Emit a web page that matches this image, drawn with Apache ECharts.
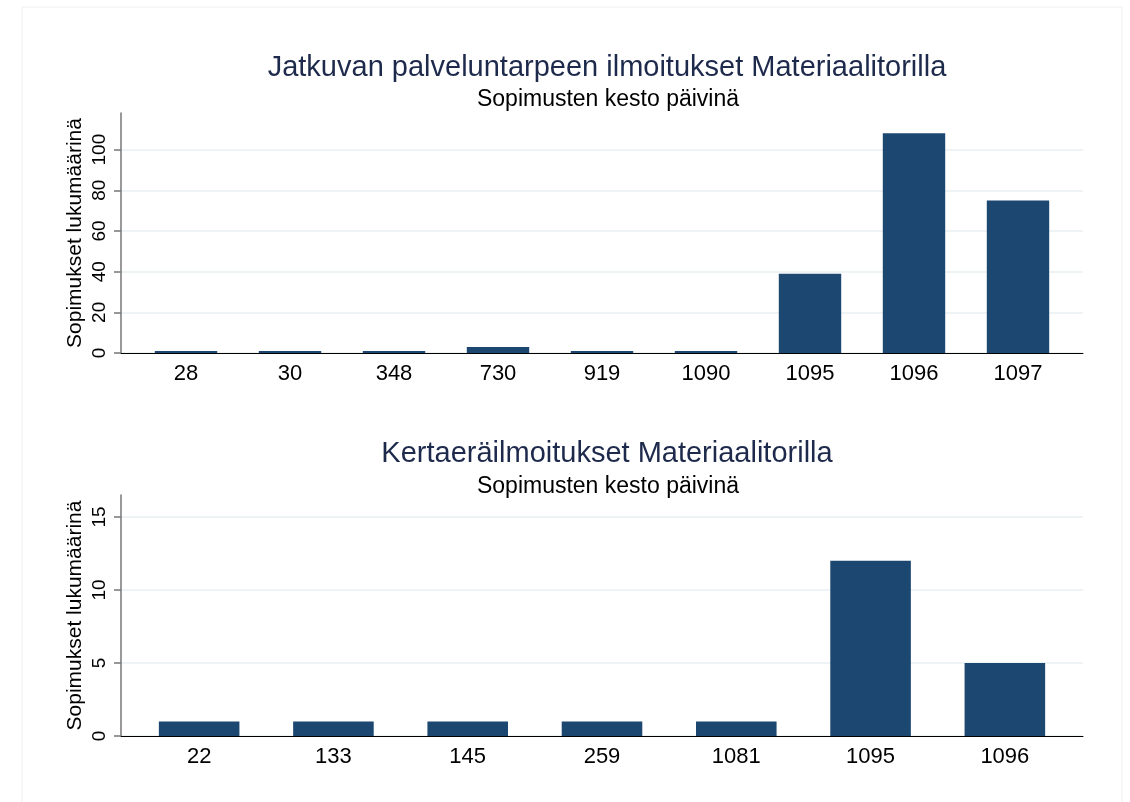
<!DOCTYPE html>
<html>
<head>
<meta charset="utf-8">
<script src="https://cdn.jsdelivr.net/npm/echarts@6/dist/echarts.min.js"></script>
<style>
  html, body { margin: 0; padding: 0; background: #fff; }
  #chart { width: 1130px; height: 802px; }
</style>
</head>
<body>
<div id="chart"></div>
<script>
const topDays = ["28", "30", "348", "730", "919", "1090", "1095", "1096", "1097"];
const topCounts = [1, 1, 1, 3, 1, 1, 39, 108, 75];
const topTicks = [0, 20, 40, 60, 80, 100];

const bottomDays = ["22", "133", "145", "259", "1081", "1095", "1096"];
const bottomCounts = [1, 1, 1, 1, 1, 12, 5];
const bottomTicks = [0, 5, 10, 15];

const font = "'Liberation Sans', Arial, sans-serif";
const barColor = "#1c4770";
const gridColor = "#e9eff3";

// outer axis frame (lines, ticks, labels) for one panel
function frameAxes(gridIndex, max, interval, ticks) {
  const lines = ticks.map(() => gridColor);
  lines.push("rgba(0,0,0,0)");
  return {
    x: {
      type: "value", gridIndex, min: 0, max: 1,
      axisLine: { lineStyle: { color: "#000", width: 1 } },
      axisTick: { show: false }, axisLabel: { show: false }, splitLine: { show: false }
    },
    y: {
      type: "value", gridIndex, min: 0, max, interval,
      name: "Sopimukset lukumäärinä",
      nameLocation: "middle",
      nameGap: 35,
      nameMoveOverlap: false,
      nameTextStyle: { fontFamily: font, fontSize: 21, color: "#000" },
      axisLine: { show: true, lineStyle: { color: "#777", width: 1.5 } },
      axisTick: { show: true, length: 7, customValues: ticks, lineStyle: { color: "#777", width: 1.5 } },
      axisLabel: { rotate: 90, margin: 12, customValues: ticks, fontFamily: font, fontSize: 19, color: "#000" },
      splitLine: { show: true, lineStyle: { color: lines, width: 1.5 } }
    }
  };
}

function innerAxes(gridIndex, max, cats) {
  return {
    x: {
      type: "category", gridIndex, data: cats,
      axisLine: { show: false }, axisTick: { show: false },
      axisLabel: { margin: 10, fontFamily: font, fontSize: 22, color: "#000" }
    },
    y: { type: "value", gridIndex, min: 0, max, show: false }
  };
}

const f0 = frameAxes(0, 118, 20, topTicks);
const i1 = innerAxes(1, 118, topDays);
const f2 = frameAxes(2, 16.5, 5, bottomTicks);
const i3 = innerAxes(3, 16.5, bottomDays);

const chart = echarts.init(document.getElementById("chart"));
chart.setOption({
  animation: false,
  backgroundColor: "#fff",
  title: [
    { text: "Jatkuvan palveluntarpeen ilmoitukset Materiaalitorilla", left: 602, top: 48, textAlign: "center",
      textStyle: { fontFamily: font, fontSize: 29, fontWeight: "normal", color: "#1e2a4c" } },
    { text: "Sopimusten kesto päivinä", left: 603, top: 83, textAlign: "center",
      textStyle: { fontFamily: font, fontSize: 23, fontWeight: "normal", color: "#000" } },
    { text: "Kertaeräilmoitukset Materiaalitorilla", left: 602, top: 434, textAlign: "center",
      textStyle: { fontFamily: font, fontSize: 29, fontWeight: "normal", color: "#1e2a4c" } },
    { text: "Sopimusten kesto päivinä", left: 603, top: 470, textAlign: "center",
      textStyle: { fontFamily: font, fontSize: 23, fontWeight: "normal", color: "#000" } }
  ],
  graphic: [
    { type: "rect", shape: { x: 22, y: 7, width: 1100, height: 820 },
      style: { fill: "none", stroke: "#f0f0f0", lineWidth: 1 }, silent: true }
  ],
  grid: [
    { left: 121, top: 113, width: 962, height: 240 },
    { left: 134, top: 113, width: 936, height: 240 },
    { left: 121, top: 495, width: 962, height: 241 },
    { left: 132, top: 495, width: 940, height: 241 }
  ],
  xAxis: [f0.x, i1.x, f2.x, i3.x],
  yAxis: [f0.y, i1.y, f2.y, i3.y],
  series: [
    { type: "bar", xAxisIndex: 1, yAxisIndex: 1, data: topCounts, barWidth: "60%",
      itemStyle: { color: barColor } },
    { type: "bar", xAxisIndex: 3, yAxisIndex: 3, data: bottomCounts, barWidth: "60%",
      itemStyle: { color: barColor } }
  ]
});
</script>
</body>
</html>
